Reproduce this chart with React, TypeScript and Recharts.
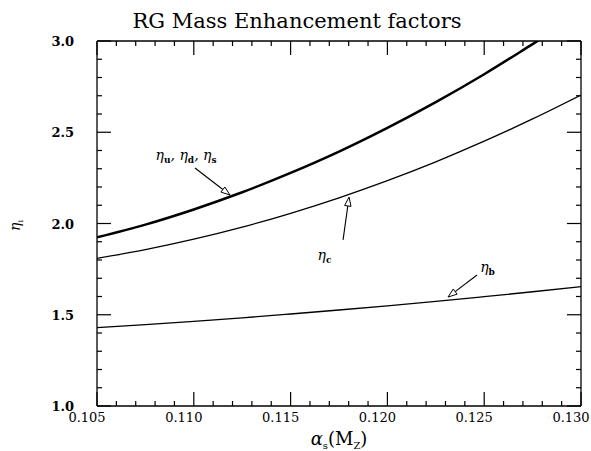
import React from "react";
import { LineChart, Line, XAxis, YAxis, ReferenceLine, ReferenceDot, Label } from "recharts";

// alpha_s(M_Z) grid and the three enhancement-factor curves
const alphaS = [0.105, 0.1075, 0.11, 0.1125, 0.115, 0.1175, 0.12, 0.1225, 0.125, 0.1275, 0.13];
const etaUDS = [1.924, 1.994, 2.077, 2.171, 2.277, 2.394, 2.524, 2.665, 2.818, 2.983, 3.15];
const etaC = [1.809, 1.857, 1.914, 1.98, 2.056, 2.141, 2.235, 2.338, 2.451, 2.573, 2.704];
const etaB = [1.429, 1.446, 1.464, 1.483, 1.504, 1.526, 1.549, 1.573, 1.599, 1.626, 1.654];

const xMajor = [0.105, 0.11, 0.115, 0.12, 0.125, 0.13];
const xMinor = [0.105, 0.106, 0.107, 0.108, 0.109, 0.11, 0.111, 0.112, 0.113, 0.114, 0.115, 0.116, 0.117, 0.118, 0.119, 0.12, 0.121, 0.122, 0.123, 0.124, 0.125, 0.126, 0.127, 0.128, 0.129, 0.13];
const yMajor = [1.0, 1.5, 2.0, 2.5, 3.0];
const yMinor = [1.0, 1.1, 1.2, 1.3, 1.4, 1.5, 1.6, 1.7, 1.8, 1.9, 2.0, 2.1, 2.2, 2.3, 2.4, 2.5, 2.6, 2.7, 2.8, 2.9, 3.0];

const data = alphaS.map((a, i) => ({ a, uds: etaUDS[i], c: etaC[i], b: etaB[i] }));

const FONT = "'DejaVu Serif', serif";
const X_DOMAIN = [0.105, 0.13];
const Y_DOMAIN = [1, 3];
const FRAME = { stroke: "#000", strokeWidth: 1.3 };
const isMajorX = (v: number) => Math.round(v * 1000) % 5 === 0;
const isMajorY = (v: number) => Math.round(v * 10) % 5 === 0;

const BottomLabel = (p: any) => (
  <text x={p.x - 10} y={p.y + 16} textAnchor="middle" fontFamily={FONT} fontSize={13} fill="#000">
    {p.payload.value.toFixed(3)}
  </text>
);

const LeftLabel = (p: any) => (
  <text x={p.x - 23} y={p.y + 5} textAnchor="end" fontFamily={FONT} fontSize={13} fontWeight="bold" fill="#000">
    {p.payload.value.toFixed(1)}
  </text>
);

// inward tick as a thin filled rectangle: starts on the frame, runs `len` px towards the far side
const TickMark = (len: number) => (p: any) => {
  const { x1, y1, x2, y2 } = p;
  const vertical = Math.abs(x2 - x1) < Math.abs(y2 - y1);
  const dir = vertical ? Math.sign(y2 - y1) : Math.sign(x2 - x1);
  if (vertical) {
    const y = dir > 0 ? y1 : y1 - len;
    return <rect x={x1 - 0.6} y={y} width={1.2} height={len} fill="#000" />;
  }
  const x = dir > 0 ? x1 : x1 - len;
  return <rect x={x} y={y1 - 0.6} width={len} height={1.2} fill="#000" />;
};

// open-headed arrow, tip at (x2, y2)
const Arrow = (p: any) => {
  const { x1, y1, x2, y2 } = p;
  const ang = Math.atan2(y2 - y1, x2 - x1);
  const len = 9, half = 3.2;
  const bx = x2 - len * Math.cos(ang), by = y2 - len * Math.sin(ang);
  const nx = -Math.sin(ang) * half, ny = Math.cos(ang) * half;
  return (
    <g>
      <line x1={x1} y1={y1} x2={bx} y2={by} stroke="#000" strokeWidth={1.1} />
      <polygon points={`${x2},${y2} ${bx + nx},${by + ny} ${bx - nx},${by - ny}`} fill="#fff" stroke="#000" strokeWidth={1} />
    </g>
  );
};

const EtaLabel = (subs: string[]) => (p: any) => (
  <text x={p.cx} y={p.cy} textAnchor="middle" fontFamily={FONT} fontStyle="italic" fontSize={14} fill="#000">
    {subs.map((s, i) => (
      <React.Fragment key={s}>
        <tspan dy={i === 0 ? 0 : -3}>{i === 0 ? "η" : ", η"}</tspan>
        <tspan dy={3} fontSize={9} fontStyle="normal" fontWeight="bold">{s}</tspan>
      </React.Fragment>
    ))}
  </text>
);

export default function App() {
  return (
    <div style={{ position: "absolute", left: 0, top: 0, width: 591, height: 451, background: "#fff" }}>
      <LineChart width={591} height={451} data={data} margin={{ top: 40, right: 9, bottom: 0, left: 0 }}>
        <XAxis
          dataKey="a"
          type="number"
          domain={X_DOMAIN}
          ticks={xMajor}
          interval={0}
          height={45}
          tickSize={0}
          tickMargin={0}
          tickLine={false}
          tick={BottomLabel}
          axisLine={FRAME}
          allowDataOverflow
        >
          <Label
            content={(p: any) => (
              <text x={p.viewBox.x + p.viewBox.width / 2} y={p.viewBox.y + 39} textAnchor="middle" fontFamily={FONT} fontSize={18} fill="#000">
                <tspan fontStyle="italic">α</tspan>
                <tspan dy={4} fontSize={10}>s</tspan>
                <tspan dy={-4}>(M</tspan>
                <tspan dy={4} fontSize={10}>Z</tspan>
                <tspan dy={-4}>)</tspan>
              </text>
            )}
          />
        </XAxis>
        <XAxis
          xAxisId="top"
          orientation="top"
          dataKey="a"
          type="number"
          domain={X_DOMAIN}
          ticks={xMajor}
          height={1}
          tickLine={false}
          tick={false}
          axisLine={FRAME}
        >
          <Label
            content={(p: any) => (
              <text x={297} y={p.viewBox.y - 12} textAnchor="middle" fontFamily={FONT} fontSize={20} textLength={329} lengthAdjust="spacingAndGlyphs" fill="#000">
                RG Mass Enhancement factors
              </text>
            )}
          />
        </XAxis>
        <YAxis
          type="number"
          domain={Y_DOMAIN}
          ticks={yMajor}
          interval={0}
          width={97}
          tickSize={0}
          tickMargin={0}
          tickLine={false}
          tick={LeftLabel}
          axisLine={FRAME}
          allowDataOverflow
        >
          <Label
            content={(p: any) => {
              const cx = p.viewBox.x + 20, cy = p.viewBox.y + p.viewBox.height / 2 + 2;
              return (
                <text x={cx} y={cy} transform={`rotate(-90 ${cx} ${cy})`} textAnchor="middle" fontFamily={FONT} fontStyle="italic" fontSize={14} fill="#000">
                  η<tspan dy={3} fontSize={8} fontStyle="normal">i</tspan>
                </text>
              );
            }}
          />
        </YAxis>
        <YAxis
          yAxisId="right"
          orientation="right"
          type="number"
          domain={Y_DOMAIN}
          ticks={yMajor}
          width={1}
          tickLine={false}
          tick={false}
          axisLine={FRAME}
        />

        {/* invisible series so the top/right frame axes get drawn */}
        <Line xAxisId="top" yAxisId="right" dataKey="c" stroke="none" dot={false} isAnimationActive={false} />

        {/* inward tick marks on all four sides */}
        {xMinor.map((v) => (
          <ReferenceLine key={`b${v}`} ifOverflow="visible" segment={[{ x: v, y: Y_DOMAIN[0] }, { x: v, y: Y_DOMAIN[1] }]} shape={TickMark(isMajorX(v) ? 14 : 5)} />
        ))}
        {xMinor.map((v) => (
          <ReferenceLine key={`t${v}`} ifOverflow="visible" segment={[{ x: v, y: Y_DOMAIN[1] }, { x: v, y: Y_DOMAIN[0] }]} shape={TickMark(isMajorX(v) ? 14 : 5)} />
        ))}
        {yMinor.map((v) => (
          <ReferenceLine key={`l${v}`} ifOverflow="visible" segment={[{ x: X_DOMAIN[0], y: v }, { x: X_DOMAIN[1], y: v }]} shape={TickMark(isMajorY(v) ? 14 : 5)} />
        ))}
        {yMinor.map((v) => (
          <ReferenceLine key={`r${v}`} ifOverflow="visible" segment={[{ x: X_DOMAIN[1], y: v }, { x: X_DOMAIN[0], y: v }]} shape={TickMark(isMajorY(v) ? 14 : 5)} />
        ))}

        <Line type="monotone" dataKey="uds" stroke="#000" strokeWidth={2.5} dot={false} isAnimationActive={false} />
        <Line type="monotone" dataKey="c" stroke="#000" strokeWidth={1.3} dot={false} isAnimationActive={false} />
        <Line type="monotone" dataKey="b" stroke="#000" strokeWidth={1.3} dot={false} isAnimationActive={false} />

        <ReferenceLine segment={[{ x: 0.11006, y: 2.304 }, { x: 0.11187, y: 2.156 }]} shape={Arrow} />
        <ReferenceLine segment={[{ x: 0.11771, y: 1.91 }, { x: 0.11802, y: 2.145 }]} shape={Arrow} />
        <ReferenceLine segment={[{ x: 0.12463, y: 1.718 }, { x: 0.12313, y: 1.597 }]} shape={Arrow} />

        <ReferenceDot x={0.1096} y={2.348} r={0} shape={EtaLabel(["u", "d", "s"])} />
        <ReferenceDot x={0.11675} y={1.8} r={0} shape={EtaLabel(["c"])} />
        <ReferenceDot x={0.12517} y={1.734} r={0} shape={EtaLabel(["b"])} />
      </LineChart>
    </div>
  );
}
